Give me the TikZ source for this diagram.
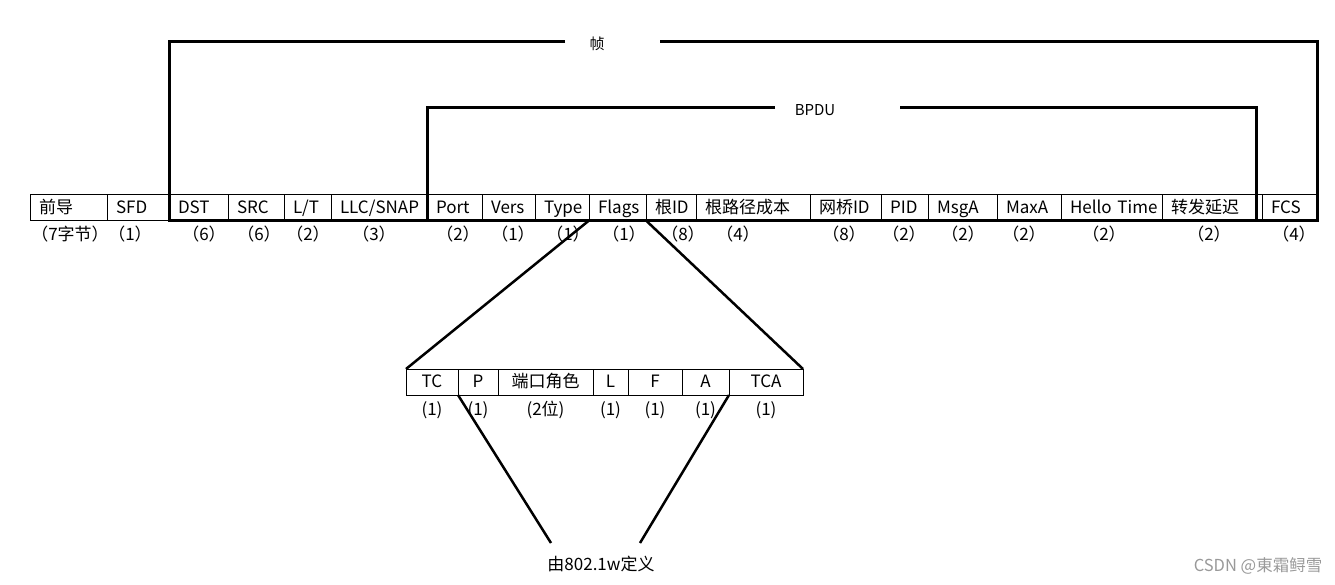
\documentclass[tikz,border=0pt]{standalone}
\usepackage{fontspec}
\setmainfont{Noto Sans CJK SC}
\usetikzlibrary{positioning}
\tikzset{
  cell/.style={draw=black,line width=1pt,outer sep=0pt,inner xsep=9pt,inner ysep=0pt,minimum height=26pt,align=left,text height=14pt,text depth=3pt,font=\fontsize{17}{20}\selectfont},
  bitcell/.style={draw=black,line width=1pt,outer sep=0pt,inner sep=0pt,minimum height=26pt,text height=14pt,text depth=3pt,font=\fontsize{17}{20}\selectfont},
  bytes/.style={inner sep=0pt,text height=14pt,text depth=3pt,font=\fontsize{17}{20}\selectfont},
  caption/.style={inner sep=1pt,font=\fontsize{15}{18}\selectfont},
  frameline/.style={line width=3pt},
  zoomline/.style={line width=2.5pt},
  wmark/.style={inner sep=0pt,text=black!40,font=\fontsize{16.5}{18}\selectfont}
}
\begin{document}
\begin{tikzpicture}[x=1pt,y=-1pt]
  \useasboundingbox (0,0) rectangle (1335,584);
  % frame fields
  \node[cell,text width=59pt,anchor=west] (pre) at (30,207.5) {前导};
  \node[cell,text width=44pt,right=0pt of pre] (sfd) {SFD};
  \node[cell,text width=41pt,right=0pt of sfd] (dst) {DST};
  \node[cell,text width=38pt,right=0pt of dst] (src) {SRC};
  \node[cell,text width=29pt,right=0pt of src] (lt) {L/T};
  \node[cell,text width=78pt,right=0pt of lt] (llc) {LLC/SNAP};
  \node[cell,text width=37pt,right=0pt of llc] (port) {Port};
  \node[cell,text width=35pt,right=0pt of port] (vers) {Vers};
  \node[cell,text width=36pt,right=0pt of vers] (type) {Type};
  \node[cell,text width=39pt,right=0pt of type] (flags) {Flags};
  \node[cell,text width=32pt,right=0pt of flags] (rootid) {根ID};
  \node[cell,text width=96pt,right=0pt of rootid] (rpc) {根路径成本};
  \node[cell,text width=53pt,right=0pt of rpc] (bridgeid) {网桥ID};
  \node[cell,text width=29pt,right=0pt of bridgeid] (pid) {PID};
  \node[cell,text width=51pt,right=0pt of pid] (msga) {MsgA};
  \node[cell,text width=46pt,right=0pt of msga] (maxa) {MaxA};
  \node[cell,text width=83pt,right=0pt of maxa] (hello) {Hello~Time};
  \node[cell,text width=82pt,right=0pt of hello] (fwd) {转发延迟};
  \node[cell,text width=37pt,right=0pt of fwd] (fcs) {FCS};
  % byte counts
  \node[bytes] (npre) at (70,235) {（7字节）};
  \node[bytes] (nsfd) at (130,235) {（1）};
  \node[bytes] (ndst) at (204,235) {（6）};
  \node[bytes] (nsrc) at (259,235) {（6）};
  \node[bytes] (nlt) at (308,235) {（2）};
  \node[bytes] (nllc) at (374,235) {（3）};
  \node[bytes] (nport) at (458,235) {（2）};
  \node[bytes] (nvers) at (513,235) {（1）};
  \node[bytes] (ntype) at (568,235) {（1）};
  \node[bytes] (nflags) at (624,235) {（1）};
  \node[bytes] (nrootid) at (683,235) {（8）};
  \node[bytes] (nrpc) at (738,235) {（4）};
  \node[bytes] (nbridgeid) at (844,235) {（8）};
  \node[bytes] (npid) at (904,235) {（2）};
  \node[bytes] (nmsga) at (963,235) {（2）};
  \node[bytes] (nmaxa) at (1024,235) {（2）};
  \node[bytes] (nhello) at (1104,235) {（2）};
  \node[bytes] (nfwd) at (1209,235) {（2）};
  \node[bytes] (nfcs) at (1294,235) {（4）};
  % brackets
  \coordinate (zhenL) at (565,41);
  \coordinate (zhenR) at (660,41);
  \node[caption] (zhen) at (597,44) {帧};
  \draw[frameline] (zhenL) -| (dst.south west) -- (fcs.south east) |- (zhenR);
  \coordinate (bpduL) at (775,107.5);
  \coordinate (bpduR) at (900,107.5);
  \node[caption] (bpdu) at (815,110) {BPDU};
  \draw[frameline] (bpduL) -| (port.south west) -- ([xshift=-6pt]fwd.south east) |- (bpduR);
  % flag bits
  \node[bitcell,minimum width=52pt,anchor=west] (tc) at (406,382) {TC};
  \node[bitcell,minimum width=40pt,right=0pt of tc] (p) {P};
  \node[bitcell,minimum width=95pt,right=0pt of p] (role) {端口角色};
  \node[bitcell,minimum width=35pt,right=0pt of role] (lbit) {L};
  \node[bitcell,minimum width=54pt,right=0pt of lbit] (fbit) {F};
  \node[bitcell,minimum width=47pt,right=0pt of fbit] (abit) {A};
  \node[bitcell,minimum width=74pt,right=0pt of abit] (tca) {TCA};
  \node[bytes,below=6pt of tc] (ntc) {(1)};
  \node[bytes,below=6pt of p] (np) {(1)};
  \node[bytes,below=6pt of role] (nrole) {(2位)};
  \node[bytes,below=6pt of lbit] (nlbit) {(1)};
  \node[bytes,below=6pt of fbit] (nfbit) {(1)};
  \node[bytes,below=6pt of abit] (nabit) {(1)};
  \node[bytes,below=6pt of tca] (ntca) {(1)};
  \draw[zoomline] (flags.south west) -- (tc.north west);
  \draw[zoomline] (flags.south east) -- (tca.north east);
  % 802.1w note
  \node[bytes] (note) at (601,565) {由802.1w定义};
  \coordinate (noteL) at (551,543);
  \coordinate (noteR) at (640,543);
  \draw[zoomline] (tc.south east) -- (noteL);
  \draw[zoomline] (tca.south west) -- (noteR);
  \node[wmark] (csdn) at (1258,566) {CSDN @東霜鲟雪};
\end{tikzpicture}
\end{document}
